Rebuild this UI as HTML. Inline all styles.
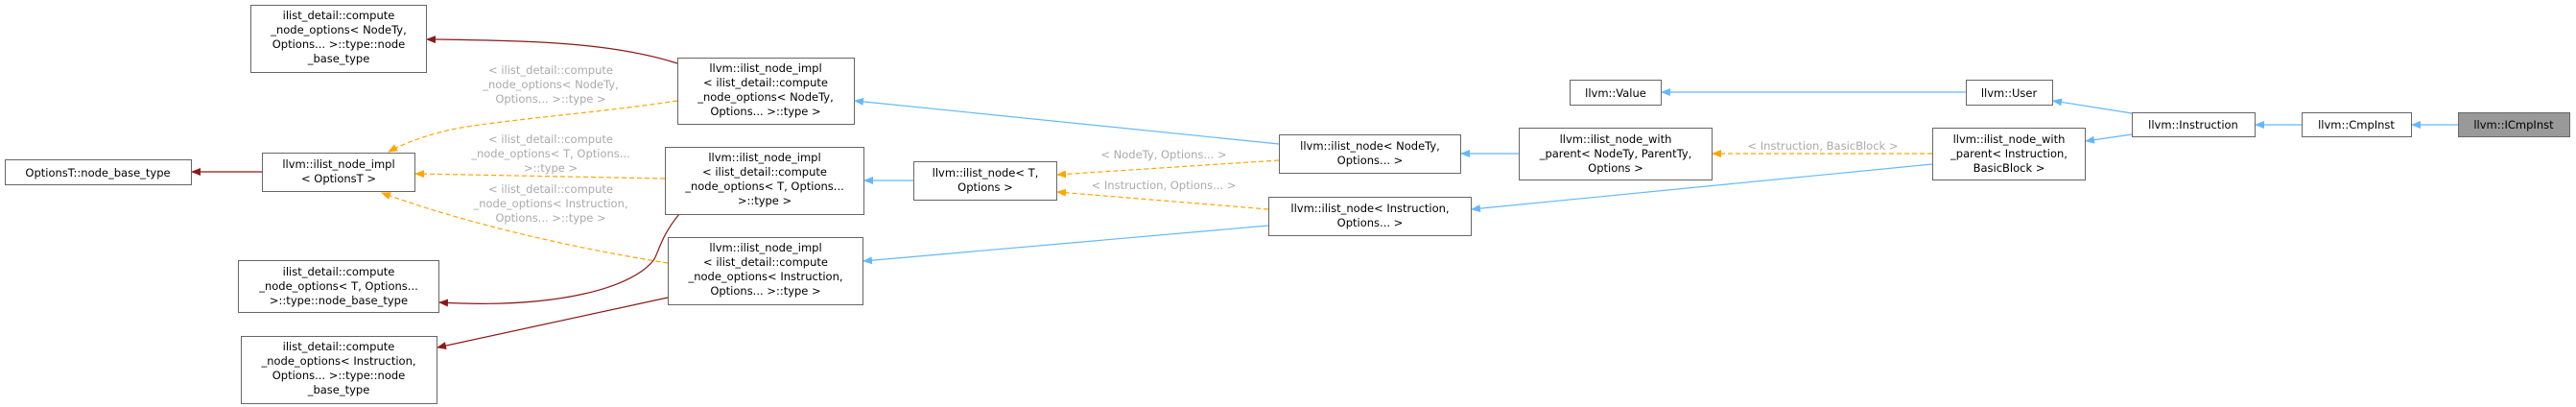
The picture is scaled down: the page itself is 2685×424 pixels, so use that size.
<!DOCTYPE html>
<html><head><meta charset="utf-8"><style>
html,body{margin:0;padding:0;background:#fff;}
svg{display:block;}
text{font-family:"DejaVu Sans","Liberation Sans",sans-serif;font-size:11.5px;fill:#000;}
.l{fill:#aaa;}
rect{fill:#fff;stroke:#666;stroke-width:1;}
.red{stroke:#8b1a1a;fill:none;stroke-width:1.2;}
.blue{stroke:#63b8ff;fill:none;stroke-width:1.2;}
.or{stroke:#ffa500;fill:none;stroke-width:1.2;stroke-dasharray:5,3;}
</style></head><body>
<svg width="2685" height="424" viewBox="0 0 2685 424" xmlns="http://www.w3.org/2000/svg">
<defs>
<marker id="mr" markerWidth="10" markerHeight="10" refX="9" refY="5" orient="auto" markerUnits="userSpaceOnUse"><path d="M0,1 L10,5 L0,9 z" fill="#8b1a1a"/></marker>
<marker id="mb" markerWidth="10" markerHeight="10" refX="9" refY="5" orient="auto" markerUnits="userSpaceOnUse"><path d="M0,1 L10,5 L0,9 z" fill="#63b8ff"/></marker>
<marker id="mo" markerWidth="10" markerHeight="10" refX="9" refY="5" orient="auto" markerUnits="userSpaceOnUse"><path d="M0,1 L10,5 L0,9 z" fill="#ffa500"/></marker>
</defs>

<!-- edges -->
<path class="red" marker-end="url(#mr)" d="M273,179 L200,179"/>
<path class="red" marker-end="url(#mr)" d="M706,66 C640,45 560,42 445,41"/>
<path class="red" marker-end="url(#mr)" d="M708,223 C690,245 688,258 682,270 C660,300 580,322 458,315"/>
<path class="red" marker-end="url(#mr)" d="M696,310 L456,362"/>

<path class="or" marker-end="url(#mo)" d="M706,105 C620,118 520,125 470,135 C440,142 420,150 405,158"/>
<path class="or" marker-end="url(#mo)" d="M693,186 L433,181"/>
<path class="or" marker-end="url(#mo)" d="M696,274 C620,262 500,238 398,201"/>

<path class="blue" marker-end="url(#mb)" d="M1333,150 L891,105"/>
<path class="blue" marker-end="url(#mb)" d="M952,188 L901,188"/>
<path class="blue" marker-end="url(#mb)" d="M1322,235 L900,272"/>
<path class="blue" marker-end="url(#mb)" d="M1583,160 L1523,160"/>
<path class="blue" marker-end="url(#mb)" d="M2014,171 L1534,218"/>
<path class="blue" marker-end="url(#mb)" d="M2049,96 L1732,96"/>
<path class="blue" marker-end="url(#mb)" d="M2222,118 L2140,105"/>
<path class="blue" marker-end="url(#mb)" d="M2222,140 L2174,147"/>
<path class="blue" marker-end="url(#mb)" d="M2399,130 L2351,130"/>
<path class="blue" marker-end="url(#mb)" d="M2562,130 L2514,130"/>

<path class="or" marker-end="url(#mo)" d="M1333,167 L1102,182"/>
<path class="or" marker-end="url(#mo)" d="M1322,218 L1102,200"/>
<path class="or" marker-end="url(#mo)" d="M2014,160 L1785,160"/>

<!-- edge labels -->
<g class="l" text-anchor="middle">
<text class="l" x="574" y="77">&lt; ilist_detail::compute</text>
<text class="l" x="574" y="92">_node_options&lt; NodeTy,</text>
<text class="l" x="574" y="107">Options... &gt;::type &gt;</text>
<text class="l" x="574" y="149">&lt; ilist_detail::compute</text>
<text class="l" x="574" y="164">_node_options&lt; T, Options...</text>
<text class="l" x="574" y="179">&gt;::type &gt;</text>
<text class="l" x="574" y="201">&lt; ilist_detail::compute</text>
<text class="l" x="574" y="216">_node_options&lt; Instruction,</text>
<text class="l" x="574" y="231">Options... &gt;::type &gt;</text>
<text class="l" x="1213" y="165">&lt; NodeTy, Options... &gt;</text>
<text class="l" x="1213" y="197">&lt; Instruction, Options... &gt;</text>
<text class="l" x="1900" y="156">&lt; Instruction, BasicBlock &gt;</text>
</g>

<!-- nodes -->
<g text-anchor="middle">
<rect x="261.5" y="5.5" width="183" height="70"/>
<text x="353" y="20">ilist_detail::compute</text>
<text x="353" y="35">_node_options&lt; NodeTy,</text>
<text x="353" y="50">Options... &gt;::type::node</text>
<text x="353" y="65">_base_type</text>

<rect x="706.5" y="60.5" width="184" height="69"/>
<text x="798" y="75">llvm::ilist_node_impl</text>
<text x="798" y="90">&lt; ilist_detail::compute</text>
<text x="798" y="105">_node_options&lt; NodeTy,</text>
<text x="798" y="120">Options... &gt;::type &gt;</text>

<rect x="5.5" y="166.5" width="194" height="26"/>
<text x="102" y="184">OptionsT::node_base_type</text>

<rect x="273.5" y="159.5" width="159" height="40"/>
<text x="353" y="175">llvm::ilist_node_impl</text>
<text x="353" y="190">&lt; OptionsT &gt;</text>

<rect x="693.5" y="153.5" width="207" height="70"/>
<text x="797" y="168">llvm::ilist_node_impl</text>
<text x="797" y="183">&lt; ilist_detail::compute</text>
<text x="797" y="198">_node_options&lt; T, Options...</text>
<text x="797" y="213">&gt;::type &gt;</text>

<rect x="696.5" y="247.5" width="203" height="70"/>
<text x="798" y="262">llvm::ilist_node_impl</text>
<text x="798" y="277">&lt; ilist_detail::compute</text>
<text x="798" y="292">_node_options&lt; Instruction,</text>
<text x="798" y="307">Options... &gt;::type &gt;</text>

<rect x="248.5" y="271.5" width="209" height="54"/>
<text x="353" y="287">ilist_detail::compute</text>
<text x="353" y="302">_node_options&lt; T, Options...</text>
<text x="353" y="317">&gt;::type::node_base_type</text>

<rect x="251.5" y="350.5" width="204" height="70"/>
<text x="353" y="365">ilist_detail::compute</text>
<text x="353" y="380">_node_options&lt; Instruction,</text>
<text x="353" y="395">Options... &gt;::type::node</text>
<text x="353" y="410">_base_type</text>

<rect x="952.5" y="168.5" width="149" height="40"/>
<text x="1027" y="184">llvm::ilist_node&lt; T,</text>
<text x="1027" y="199">Options &gt;</text>

<rect x="1333.5" y="140.5" width="189" height="40"/>
<text x="1428" y="156">llvm::ilist_node&lt; NodeTy,</text>
<text x="1428" y="171">Options... &gt;</text>

<rect x="1322.5" y="205.5" width="211" height="40"/>
<text x="1428" y="221">llvm::ilist_node&lt; Instruction,</text>
<text x="1428" y="236">Options... &gt;</text>

<rect x="1583.5" y="133.5" width="201" height="54"/>
<text x="1684" y="149">llvm::ilist_node_with</text>
<text x="1684" y="164">_parent&lt; NodeTy, ParentTy,</text>
<text x="1684" y="179">Options &gt;</text>

<rect x="1636.5" y="83.5" width="95" height="26"/>
<text x="1684" y="101">llvm::Value</text>

<rect x="2049.5" y="83.5" width="90" height="26"/>
<text x="2094" y="101">llvm::User</text>

<rect x="2014.5" y="133.5" width="159" height="54"/>
<text x="2094" y="149">llvm::ilist_node_with</text>
<text x="2094" y="164">_parent&lt; Instruction,</text>
<text x="2094" y="179">BasicBlock &gt;</text>

<rect x="2222.5" y="117.5" width="128" height="25"/>
<text x="2286" y="134">llvm::Instruction</text>

<rect x="2399.5" y="117.5" width="114" height="25"/>
<text x="2456" y="134">llvm::CmpInst</text>

<rect x="2562.5" y="117.5" width="116" height="25" style="fill:#999;stroke:#666"/>
<text x="2620" y="134">llvm::ICmpInst</text>
</g>
</svg>
</body></html>
